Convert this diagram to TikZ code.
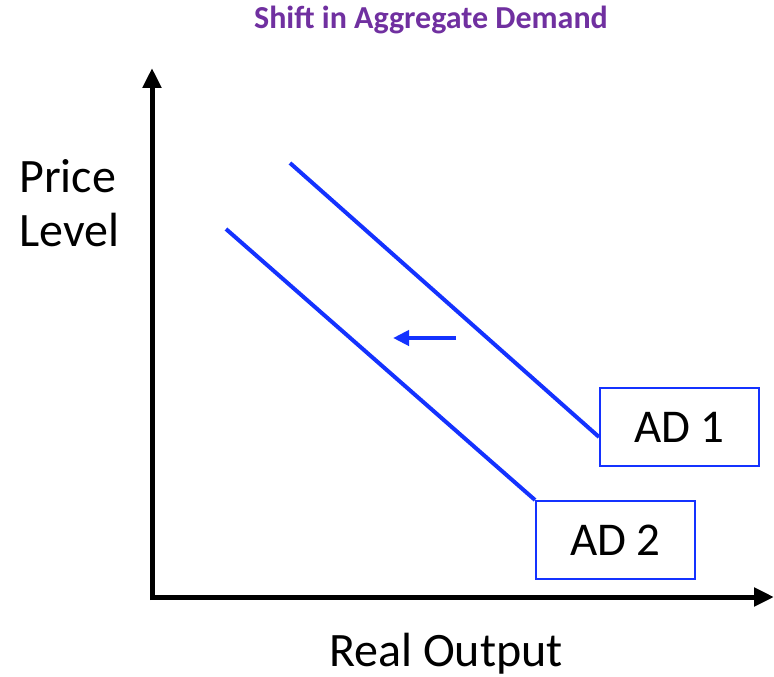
\documentclass[tikz,border=0pt]{standalone}
\usepackage{fontspec}
\setmainfont{Carlito}
\usetikzlibrary{arrows.meta}
\definecolor{titlepurple}{RGB}{112,48,160}
\definecolor{adblue}{RGB}{20,50,255}
\begin{document}
\begin{tikzpicture}[x=1pt,y=-1pt,
  axis/.style={line width=5pt,-{Triangle[length=20pt,width=18pt]}},
  curve/.style={adblue,line width=4pt},
  lab/.style={font=\fontsize{48}{54}\selectfont,text=black,inner sep=0pt},
  adbox/.style={draw=adblue,line width=2pt,minimum width=159pt,minimum height=78pt,anchor=north west,inner sep=0pt,font=\fontsize{47}{50}\selectfont}]
\useasboundingbox (0,0) rectangle (774,677);
% title
\node[font=\fontsize{32}{36}\selectfont\bfseries,text=titlepurple,anchor=base] (title) at (431,29) {Shift in Aggregate Demand};
% axes
\coordinate (o) at (152,597);
\coordinate (ytip) at (152,68);
\coordinate (xtip) at (774,597);
\draw[axis] (152,600) -- (ytip);
\draw[axis] (150,597) -- (xtip);
% axis labels
\node[lab,align=left,anchor=base west] (ylab) at (19,246) {Price\\Level};
\node[lab,anchor=base] (xlab) at (446,666) {Real Output};
% boxes
\node[adbox] (ad1) at (599,387) {AD 1};
\node[adbox] (ad2) at (535,500) {AD 2};
% curves
\coordinate (s1) at (290,163);
\coordinate (e1) at (599,437);
\coordinate (s2) at (226,229);
\draw[curve] (s1) -- (e1);
\draw[curve] (s2) -- (ad2.north west);
% shift arrow
\coordinate (a0) at (456,338);
\coordinate (a1) at (393,338);
\draw[adblue,line width=4pt,-{Triangle[length=16pt,width=15pt]}] (a0) -- (a1);
\end{tikzpicture}
\end{document}
